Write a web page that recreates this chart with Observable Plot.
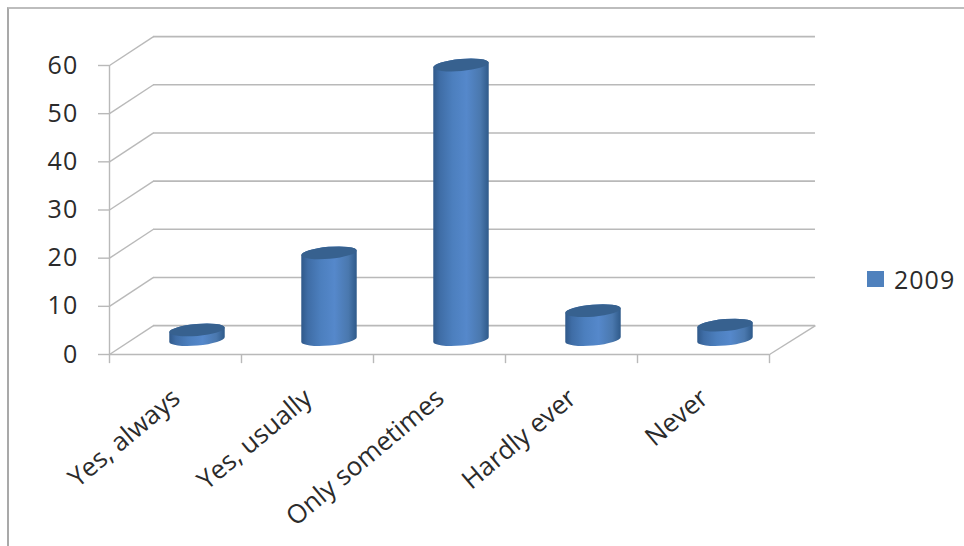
<!DOCTYPE html>
<html>
<head>
<meta charset="utf-8">
<script src="https://cdn.jsdelivr.net/npm/d3@7"></script>
<script src="https://cdn.jsdelivr.net/npm/@observablehq/plot@0.6"></script>
<style>
  html, body { margin: 0; padding: 0; background: #fff; overflow: hidden; }
  #chart { position: relative; width: 964px; height: 546px; font-family: "Open Sans", sans-serif; color: #2b2b2b; }
  #chart svg { display: block; position: absolute; left: 0; top: 0; background: transparent; }
  #chart svg g[aria-label="y-axis tick label"] { letter-spacing: 1.2px; }
  #border { position: absolute; left: 7px; top: 7px; right: -4px; bottom: -4px; border-left: 2px solid #a9a9a9; border-top: 2px solid #bdbdbd; }
  #legend { position: absolute; left: 867px; top: 265px; display: flex; align-items: center; gap: 10px; font-size: 25px; line-height: 28px; letter-spacing: 1px; }
  #legend i { display: block; width: 17px; height: 16px; background: #4f81bd; }
</style>
</head>
<body>
<div id="chart">
  <div id="border"></div>
  <div id="legend"></div>
</div>
<script>
const categories = ["Yes, always", "Yes, usually", "Only sometimes", "Hardly ever", "Never"];
const values2009 = [2, 18, 57, 6, 3];
const yTicks = [0, 10, 20, 30, 40, 50, 60];
const seriesName = "2009";

// Depth of the floor and back wall, in category widths and axis units.
const depthX = 1 / 3;
const depthY = 6;
const backRight = categories.length + depthX + 0.015;
const xEdges = d3.range(categories.length + 1);
const gridStroke = "#b9b9b9";

const table = categories.map((name, i) => ({name, i, value: values2009[i]}));

// Cylinders sit halfway into the depth of the floor.
function cylinders(index, {x, y}) {
  const svgNS = "http://www.w3.org/2000/svg";
  const root = d3.select(document.createElementNS(svgNS, "g"));
  const defs = root.append("defs");
  const side = defs.append("linearGradient").attr("id", "cyl-side");
  [[0, "#30598a"], [0.12, "#3f6da6"], [0.35, "#4c7fbe"], [0.6, "#5588cb"], [0.85, "#4a78ae"], [1, "#2f5a8a"]]
    .forEach(([o, c]) => side.append("stop").attr("offset", o).attr("stop-color", c));
  const halfWidth = 0.21;
  const rot = -5;
  const ry = 6;
  for (const d of table) {
    const cx = d.i + 0.5 + depthX / 2;
    const xl = x(cx - halfWidth), xr = x(cx + halfWidth);
    const rx = (xr - xl) / 2;
    const mx = (xl + xr) / 2;
    const yb = y(depthY / 2), yt = y(d.value + depthY / 2);
    const lift = rx * Math.tan(-rot * Math.PI / 180);
    root.append("path")
      .attr("fill", "url(#cyl-side)")
      .attr("d", `M${xl},${yt + lift}A${rx},${ry} ${rot} 0 1 ${xr},${yt - lift}L${xr},${yb - lift}A${rx},${ry} ${rot} 0 1 ${xl},${yb + lift}Z`);
    root.append("ellipse")
      .attr("cx", mx).attr("cy", yt)
      .attr("rx", rx).attr("ry", ry)
      .attr("transform", `rotate(${rot} ${mx} ${yt})`)
      .attr("fill", "#37618f");
  }
  return root.node();
}

const plot = Plot.plot({
  width: 964,
  height: 546,
  marginLeft: 109,
  marginRight: 195,
  marginTop: 65,
  marginBottom: 192,
  style: {fontFamily: '"Open Sans", sans-serif', color: "#2b2b2b", background: "transparent"},
  x: {domain: [0, categories.length], axis: null},
  y: {domain: [0, 60], axis: null},
  marks: [
    // Back wall gridlines and their slanted returns to the value axis.
    Plot.ruleY(yTicks, {y: d => d + depthY, x1: depthX, x2: backRight, stroke: gridStroke, strokeWidth: 1.6}),
    Plot.link(yTicks, {x1: 0, y1: d => d, x2: depthX, y2: d => d + depthY, stroke: gridStroke, strokeWidth: 1.4}),
    // Right edge of the floor.
    Plot.link([0], {x1: categories.length, y1: 0, x2: backRight, y2: depthY, stroke: gridStroke, strokeWidth: 1.4}),
    // Axis lines and ticks.
    Plot.ruleX([0], {y1: 0, y2: 60, stroke: gridStroke, strokeWidth: 1.4}),
    Plot.ruleY([0], {x1: 0, x2: categories.length, stroke: gridStroke, strokeWidth: 1.6}),
    Plot.ruleX(xEdges, {y1: 0, y2: -1.9, stroke: gridStroke, strokeWidth: 1.4}),
    Plot.axisY(yTicks, {
      anchor: "left", tickSize: 11, tickPadding: 20, fontSize: 25, stroke: gridStroke, strokeWidth: 1.4,
      fill: "#2b2b2b", tickFormat: d => String(d), label: null
    }),
    cylinders,
    // Category labels, rotated and ending under each category's centre.
    Plot.text(table, {
      x: d => d.i + 0.5, y: () => 0, text: "name", rotate: -40, textAnchor: "end",
      dx: 1, dy: 40, fontSize: 26, fill: "#2b2b2b"
    })
  ]
});
document.getElementById("chart").appendChild(plot);

const legend = d3.select("#legend");
legend.append("i");
legend.append("span").text(seriesName);
</script>
</body>
</html>
